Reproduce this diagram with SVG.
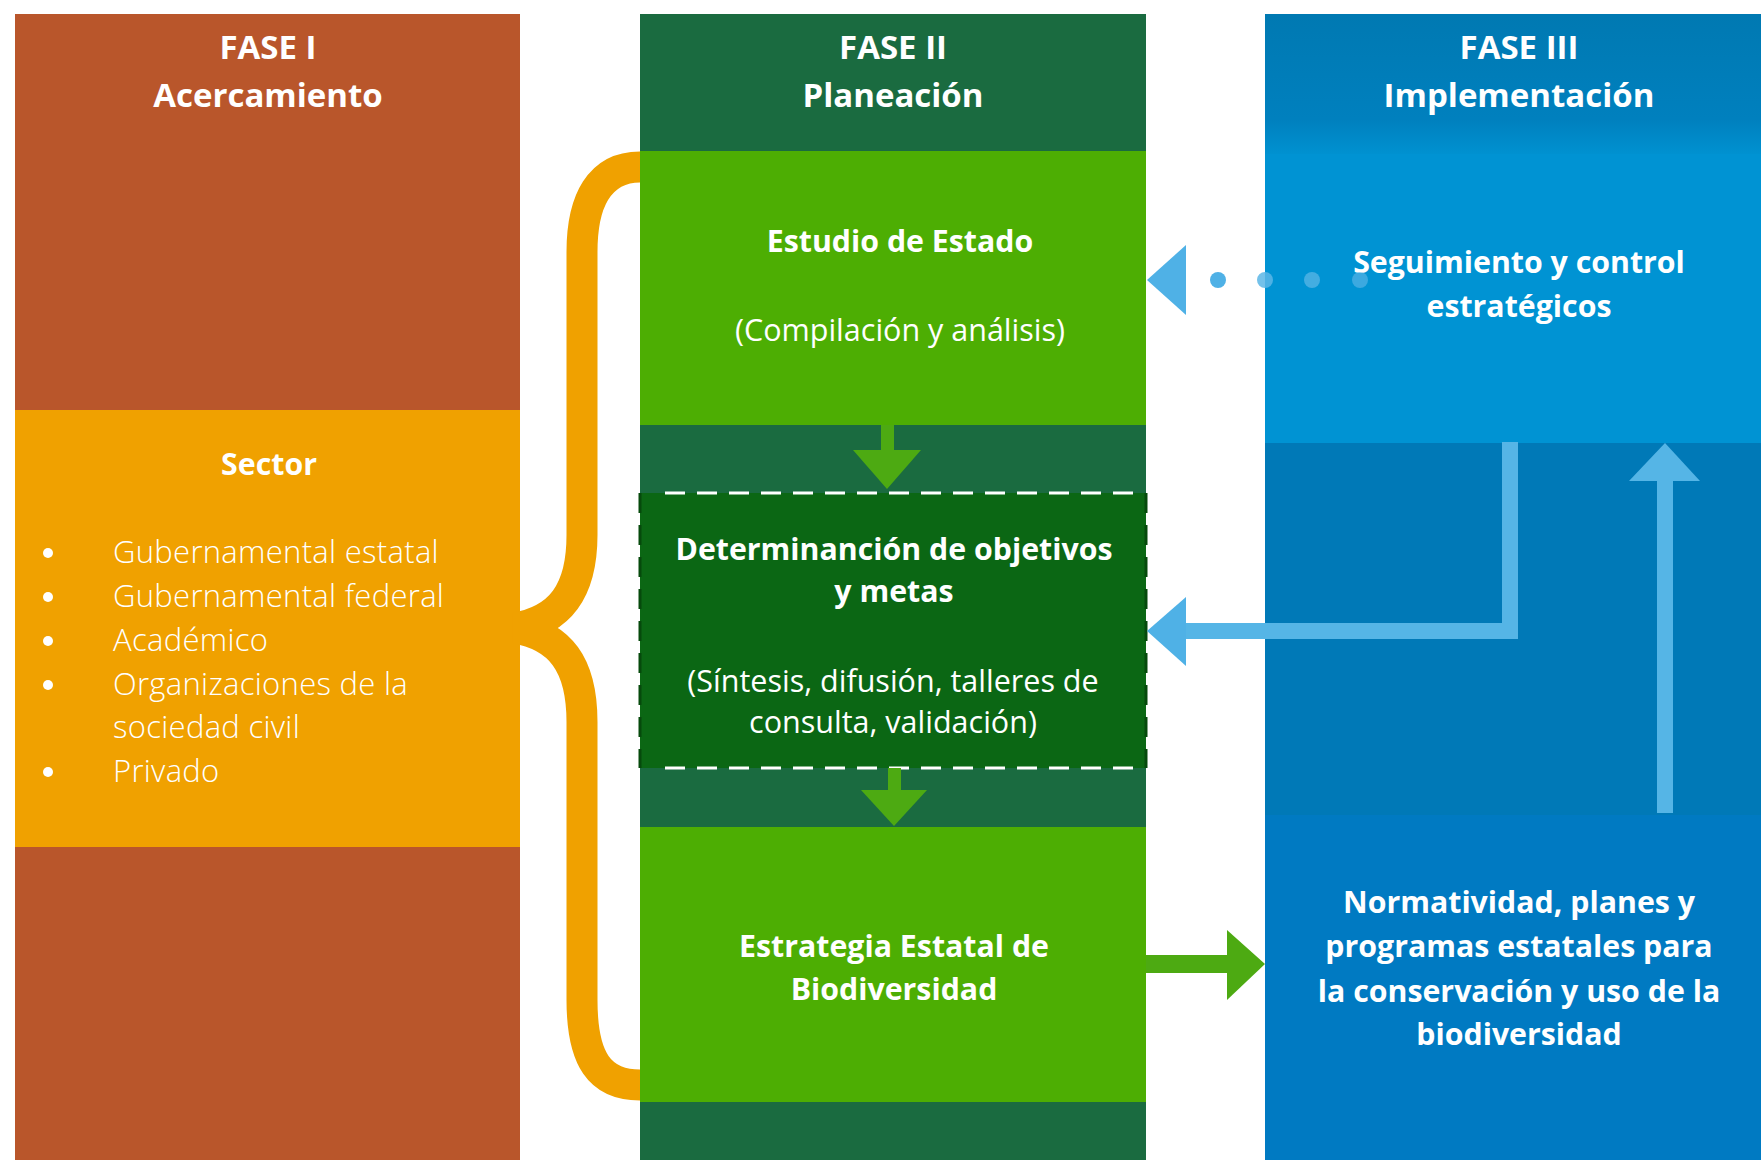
<svg xmlns="http://www.w3.org/2000/svg" width="1761" height="1160" viewBox="0 0 1761 1160">
<defs>
<style>
text{fill:#fff;font-family:"Open Sans",Lato,"Liberation Sans",sans-serif;text-anchor:middle}
.h{font-size:33px;font-weight:700}
.b{font-size:30.3px;font-weight:700}
.r{font-size:30.5px;font-weight:400}
.l{font-size:31px;font-weight:300;text-anchor:start;letter-spacing:0.3px}
.blue{fill:#4FB1E6}
.grn{fill:#4DAA12}
</style>
<linearGradient id="bh" x1="0" y1="0" x2="0" y2="1">
<stop offset="0" stop-color="#0079B2"/><stop offset="0.75" stop-color="#0080BE"/><stop offset="1" stop-color="#0091D0"/>
</linearGradient>
</defs>
<rect width="1761" height="1160" fill="#fff"/>

<g id="phase1">
<rect x="15" y="14" width="505" height="1146" fill="#B9562B"/>
<text class="h" x="268" y="59">FASE I</text>
<text class="h" x="268" y="107">Acercamiento</text>
</g>

<g id="sector">
<rect x="15" y="410" width="505" height="437" fill="#F0A100"/>
<text class="b" x="269" y="475">Sector</text>
<g fill="#fff">
<circle cx="48" cy="553" r="5"/><circle cx="48" cy="597" r="5"/><circle cx="48" cy="641" r="5"/><circle cx="48" cy="685" r="5"/><circle cx="48" cy="772" r="5"/>
</g>
<text class="l" x="113" y="563">Gubernamental estatal</text>
<text class="l" x="113" y="607">Gubernamental federal</text>
<text class="l" x="113" y="651">Académico</text>
<text class="l" x="113" y="695">Organizaciones de la</text>
<text class="l" x="113" y="738">sociedad civil</text>
<text class="l" x="113" y="782">Privado</text>
</g>

<g id="connectors">
<path id="brace" d="M650 167 L640 167 C600 167 582 200 582 252 L582 535 C582 592 560 620 515 628 C560 636 582 664 582 722 L582 1000 C582 1060 600 1085 640 1085 L650 1085" fill="none" stroke="#F0A100" stroke-width="31"/>
</g>

<g id="phase2">
<rect x="640" y="14" width="506" height="1146" fill="#1A6B40"/>
<text class="h" x="893" y="59">FASE II</text>
<text class="h" x="893" y="107">Planeación</text>
</g>

<g id="estudio">
<rect x="640" y="151" width="506" height="274" fill="#4DAE03"/>
<text class="b" x="900" y="252">Estudio de Estado</text>
<text class="r" x="900" y="341">(Compilación y análisis)</text>
</g>

<g id="determinacion">
<rect x="640" y="493" width="506" height="275" fill="#0B6714"/>
<line x1="640" y1="493" x2="640" y2="768" stroke="#064A0C" stroke-width="3" stroke-dasharray="20 12"/>
<line x1="1146" y1="493" x2="1146" y2="768" stroke="#064A0C" stroke-width="3" stroke-dasharray="20 12"/>
<line x1="665" y1="493" x2="1140" y2="493" stroke="#fff" stroke-width="3" stroke-dasharray="20 12"/>
<line x1="665" y1="768" x2="1140" y2="768" stroke="#fff" stroke-width="3" stroke-dasharray="20 12"/>
<text class="b" x="894" y="560">Determinanción de objetivos</text>
<text class="b" x="894" y="602">y metas</text>
<text class="r" x="893" y="692">(Síntesis, difusión, talleres de</text>
<text class="r" x="893" y="733">consulta, validación)</text>
</g>

<g id="estrategia">
<rect x="640" y="827" width="506" height="275" fill="#4DAE03"/>
<text class="b" x="894" y="957">Estrategia Estatal de</text>
<text class="b" x="894" y="1000">Biodiversidad</text>
</g>

<g id="phase3">
<rect x="1265" y="14" width="496" height="1146" fill="#007AC2"/>
<rect x="1265" y="14" width="496" height="140" fill="url(#bh)"/>
<text class="h" x="1519" y="59">FASE III</text>
<text class="h" x="1519" y="107">Implementación</text>
</g>

<g id="seguimiento">
<rect x="1265" y="154" width="496" height="289" fill="#0093D3"/>
<text class="b" x="1519" y="273">Seguimiento y control</text>
<text class="b" x="1519" y="317">estratégicos</text>
</g>

<g id="mid3">
<rect x="1265" y="443" width="496" height="372" fill="#0079B7"/>
</g>

<g id="normatividad">
<text class="b" x="1519" y="913">Normatividad, planes y</text>
<text class="b" x="1519" y="957">programas estatales para</text>
<text class="b" x="1519" y="1002">la conservación y uso de la</text>
<text class="b" x="1519" y="1045">biodiversidad</text>
</g>

<g id="arrows">
<rect class="grn" x="881" y="425" width="13" height="30"/>
<polygon class="grn" points="853,450 921,450 887,489"/>
<rect class="grn" x="888" y="768" width="13" height="24"/>
<polygon class="grn" points="861,790 927,790 894,826"/>
<rect class="grn" x="1146" y="955" width="84" height="18"/>
<polygon class="grn" points="1227,930 1265,964 1227,1000"/>
<polygon class="blue" points="1147,280 1186,245 1186,315"/>
<circle class="blue" cx="1218" cy="280" r="8"/>
<circle cx="1265" cy="280" r="8" fill="#5AB6E6" opacity="0.85"/>
<circle cx="1312" cy="280" r="8" fill="#5AB6E6" opacity="0.75"/>
<circle cx="1360" cy="280" r="8" fill="#5AB6E6" opacity="0.65"/>
<path d="M1510 442 L1510 631 L1184 631" fill="none" stroke="#55B5E6" stroke-width="16"/>
<polygon class="blue" points="1147,631 1186,597 1186,666"/>
<rect x="1657" y="478" width="16" height="335" fill="#55B5E6"/>
<polygon fill="#55B5E6" points="1629,481 1665,443 1700,481"/>
</g>
</svg>
